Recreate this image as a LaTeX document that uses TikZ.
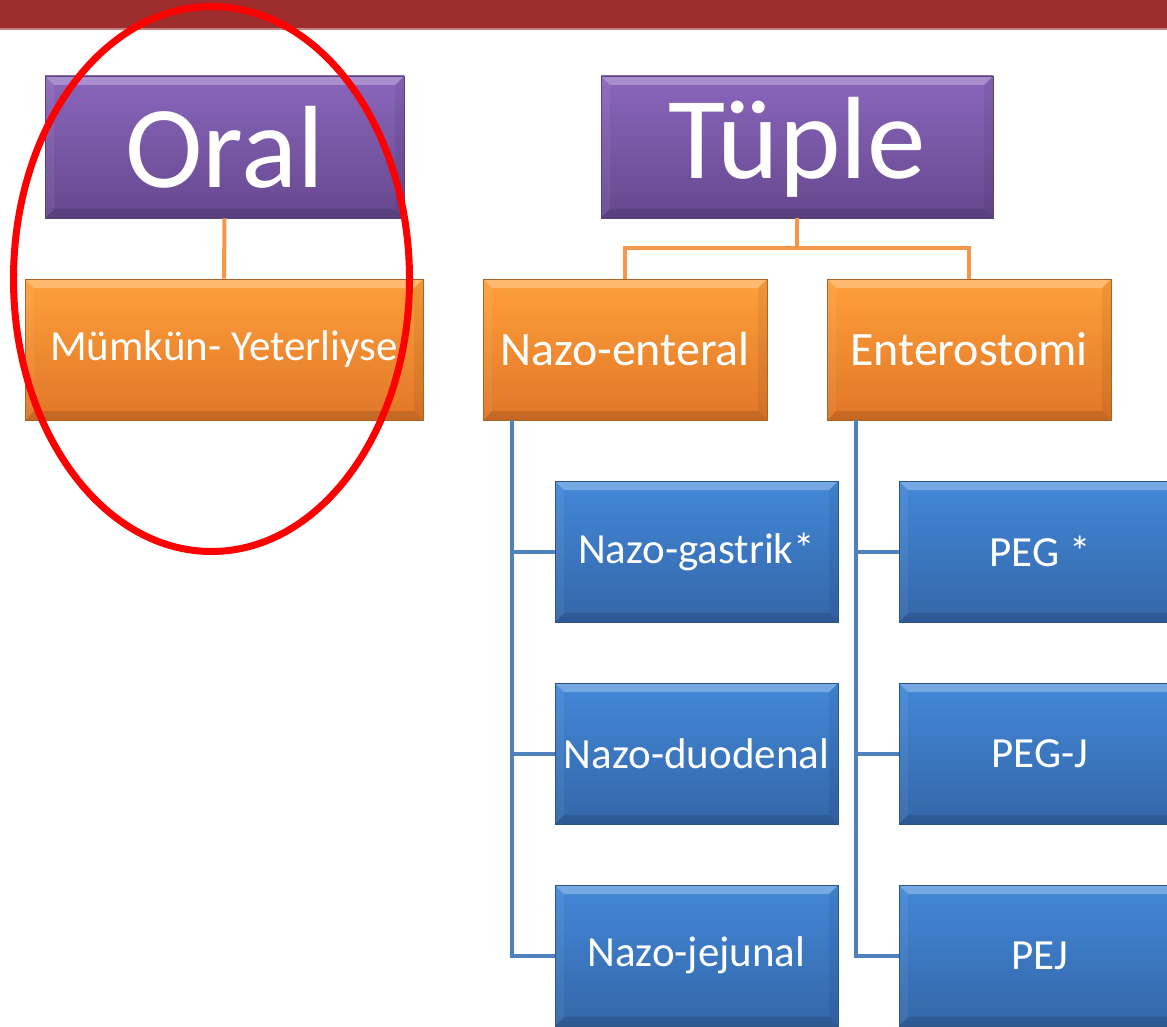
\documentclass[tikz,border=0pt]{standalone}
\usepackage{fontspec}
\setmainfont{Carlito}
\usetikzlibrary{calc,shapes.geometric}
\definecolor{barred}{RGB}{158,45,45}
\definecolor{purtop}{RGB}{138,102,188}
\definecolor{purbot}{RGB}{102,72,142}
\definecolor{purline}{RGB}{90,65,125}
\definecolor{ortop}{RGB}{255,160,58}
\definecolor{orbot}{RGB}{224,118,40}
\definecolor{orline}{RGB}{170,100,40}
\definecolor{bltop}{RGB}{66,136,216}
\definecolor{blbot}{RGB}{52,102,168}
\definecolor{blline}{RGB}{45,85,140}
\definecolor{orconn}{RGB}{247,150,70}
\definecolor{blconn}{RGB}{79,129,189}
\tikzset{
  bevel/.style={path picture={
    \fill[white,opacity=0.28] (path picture bounding box.north west) -- (path picture bounding box.north east)
      -- ($(path picture bounding box.north east)+(-9,9)$) -- ($(path picture bounding box.north west)+(9,9)$) -- cycle;
    \fill[black,opacity=0.12] (path picture bounding box.south west) -- (path picture bounding box.south east)
      -- ($(path picture bounding box.south east)+(-9,-9)$) -- ($(path picture bounding box.south west)+(9,-9)$) -- cycle;
    \fill[black,opacity=0.06] (path picture bounding box.north east) -- (path picture bounding box.south east)
      -- ($(path picture bounding box.south east)+(-9,-9)$) -- ($(path picture bounding box.north east)+(-9,9)$) -- cycle;
    \fill[white,opacity=0.06] (path picture bounding box.north west) -- (path picture bounding box.south west)
      -- ($(path picture bounding box.south west)+(9,-9)$) -- ($(path picture bounding box.north west)+(9,9)$) -- cycle;
  }},
  purbox/.style={rectangle, bevel, top color=purtop, bottom color=purbot, draw=purline, line width=0.8pt,
    text=white, inner sep=0pt, minimum height=142pt, font=\fontsize{117pt}{117pt}\selectfont},
  orbox/.style={rectangle, bevel, top color=ortop, bottom color=orbot, draw=orline, line width=0.8pt,
    text=white, inner sep=0pt, minimum height=141pt, minimum width=284pt, font=\fontsize{48pt}{48pt}\selectfont},
  blbox/.style={rectangle, bevel, top color=bltop, bottom color=blbot, draw=blline, line width=0.8pt,
    text=white, inner sep=0pt, minimum height=141pt, font=\fontsize{43pt}{43pt}\selectfont},
  orc/.style={draw=orconn, line width=4pt},
  blc/.style={draw=blconn, line width=4pt},
}
\begin{document}
\begin{tikzpicture}[x=1pt,y=-1pt]
\useasboundingbox (0,0) rectangle (1167,1027);
\clip (0,0) rectangle (1167,1027);
\fill[white] (0,0) rectangle (1167,1027);
\fill[barred] (0,0) rectangle (1167,28);
\fill[barred!60!white] (0,28) rectangle (1167,30);

% top level
\node[purbox, minimum width=359pt] (oral) at (224.5,147) {Oral};
\node[purbox, minimum width=392pt] (tuple) at (797,147) {Tüple};

% second level
\node[orbox, minimum width=398pt, font=\fontsize{43pt}{43pt}\selectfont] (mumkun) at (224,349.5) {Mümkün- Yeterliyse};
\node[orbox] (nazo) at (625,349.5) {Nazo-enteral};
\node[orbox] (entero) at (969,349.5) {Enterostomi};

% third level
\node[blbox, minimum width=283pt] (ng) at (696.5,551.5) {Nazo-gastrik*};
\node[blbox, minimum width=283pt] (nd) at (696.5,753.5) {Nazo-duodenal};
\node[blbox, minimum width=283pt] (nj) at (696.5,955.5) {Nazo-jejunal};
\node[blbox, minimum width=282pt] (peg) at (1040,551.5) {PEG *};
\node[blbox, minimum width=282pt] (pegj) at (1040,753.5) {PEG-J};
\node[blbox, minimum width=282pt] (pej) at (1040,955.5) {PEJ};

% connectors
\draw[orc] (oral.south) -- (mumkun.north);
\draw[orc] (tuple.south) -- ++(0,30) -| (nazo.north);
\draw[orc] (tuple.south) -- ++(0,30) -| (entero.north);

\coordinate (nl) at ($(nazo.south west)+(29,0)$);
\coordinate (el) at ($(entero.south west)+(29,0)$);
\draw[blc] (nl) |- (ng.west);
\draw[blc] (nl) |- (nd.west);
\draw[blc] (nl) |- (nj.west);
\draw[blc] (el) |- (peg.west);
\draw[blc] (el) |- (pegj.west);
\draw[blc] (el) |- (pej.west);

% highlight ellipse
\node[ellipse, draw=red, line width=7pt, minimum width=396pt, minimum height=545pt, inner sep=0pt] (mark) at (211.5,279) {};
\end{tikzpicture}
\end{document}
